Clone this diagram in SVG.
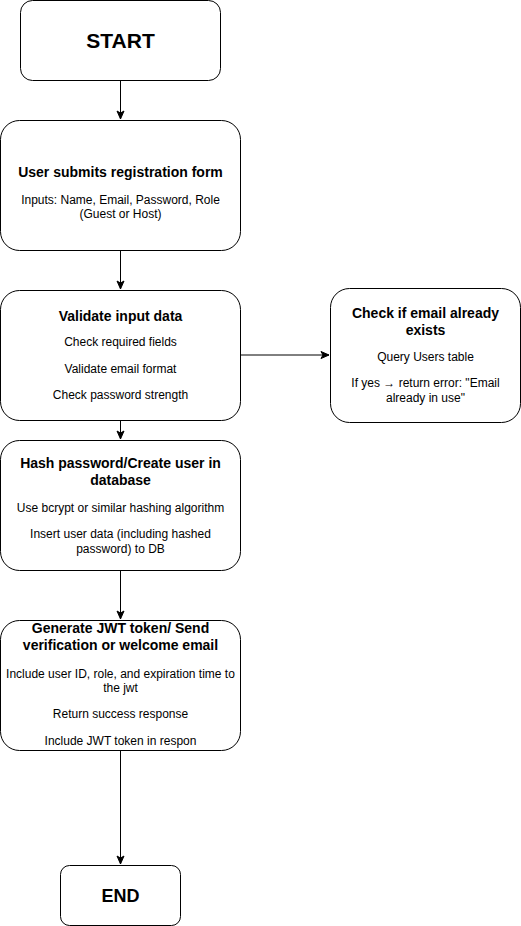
<svg xmlns="http://www.w3.org/2000/svg" width="521" height="926" viewBox="0 0 521 926">
<defs>
<marker id="arr" markerWidth="10" markerHeight="10" viewBox="0 0 10 10" refX="9" refY="5" orient="auto" markerUnits="userSpaceOnUse">
<path d="M1,1.5 L9,5 L1,8.5 L3,5 Z" fill="#000" stroke="#000" stroke-width="1"/>
</marker>
</defs>
<style>
.box{fill:#fff;stroke:#000;stroke-width:1}
text{font-family:"Liberation Sans",Arial,sans-serif;fill:#000;text-anchor:middle}
.t{font-size:14px;font-weight:bold}
.b{font-size:12px}
.big{font-size:21px;font-weight:bold}
.con{fill:none;stroke:#000;stroke-width:1}
</style>
<rect width="521" height="926" fill="#fff"/>
<g id="connectors">
<path class="con" d="M120.5,80 V119" marker-end="url(#arr)"/>
<path class="con" d="M120.5,250 V289" marker-end="url(#arr)"/>
<path class="con" d="M240,355 H329" marker-end="url(#arr)"/>
<path class="con" d="M120.5,420 V439" marker-end="url(#arr)"/>
<path class="con" d="M120.5,570 V619" marker-end="url(#arr)"/>
<path class="con" d="M120.5,750 V864" marker-end="url(#arr)"/>
</g>
<g id="start">
<rect class="box" x="20.5" y="0.5" width="200" height="80" rx="12"/>
<text class="big" x="120.5" y="48">START</text>
</g>
<g id="submit">
<rect class="box" x="0.5" y="120.5" width="240" height="130" rx="19"/>
<text class="t" x="120.5" y="177">User submits registration form</text>
<text class="b" x="120.5" y="204">Inputs: Name, Email, Password, Role</text>
<text class="b" x="120.5" y="218">(Guest or Host)</text>
</g>
<g id="validate">
<rect class="box" x="0.5" y="290.5" width="240" height="130" rx="19"/>
<text class="t" x="120.5" y="321">Validate input data</text>
<text class="b" x="120.5" y="346">Check required fields</text>
<text class="b" x="120.5" y="373">Validate email format</text>
<text class="b" x="120.5" y="399">Check password strength</text>
</g>
<g id="check">
<rect class="box" x="330.5" y="288.5" width="190" height="134" rx="19"/>
<text class="t" x="425.5" y="318">Check if email already</text>
<text class="t" x="425.5" y="335">exists</text>
<text class="b" x="425.5" y="361">Query Users table</text>
<text class="b" x="425.5" y="387">If yes → return error: "Email</text>
<text class="b" x="425.5" y="402">already in use"</text>
</g>
<g id="hash">
<rect class="box" x="0.5" y="440.5" width="240" height="130" rx="19"/>
<text class="t" x="120.5" y="468">Hash password/Create user in</text>
<text class="t" x="120.5" y="485">database</text>
<text class="b" x="120.5" y="512">Use bcrypt or similar hashing algorithm</text>
<text class="b" x="120.5" y="538">Insert user data (including hashed</text>
<text class="b" x="120.5" y="553">password) to DB</text>
</g>
<g id="generate">
<rect class="box" x="0.5" y="620.5" width="240" height="130" rx="19"/>
<text class="t" x="120.5" y="633">Generate JWT token/ Send</text>
<text class="t" x="120.5" y="650">verification or welcome email</text>
<text class="b" x="120.5" y="678">Include user ID, role, and expiration time to</text>
<text class="b" x="120.5" y="692">the jwt</text>
<text class="b" x="120.5" y="718">Return success response</text>
<text class="b" x="120.5" y="745">Include JWT token in respon</text>
</g>
<g id="end">
<rect class="box" x="60.5" y="865.5" width="120" height="60" rx="9"/>
<text class="big" x="120.5" y="902" style="font-size:18px">END</text>
</g>
</svg>
